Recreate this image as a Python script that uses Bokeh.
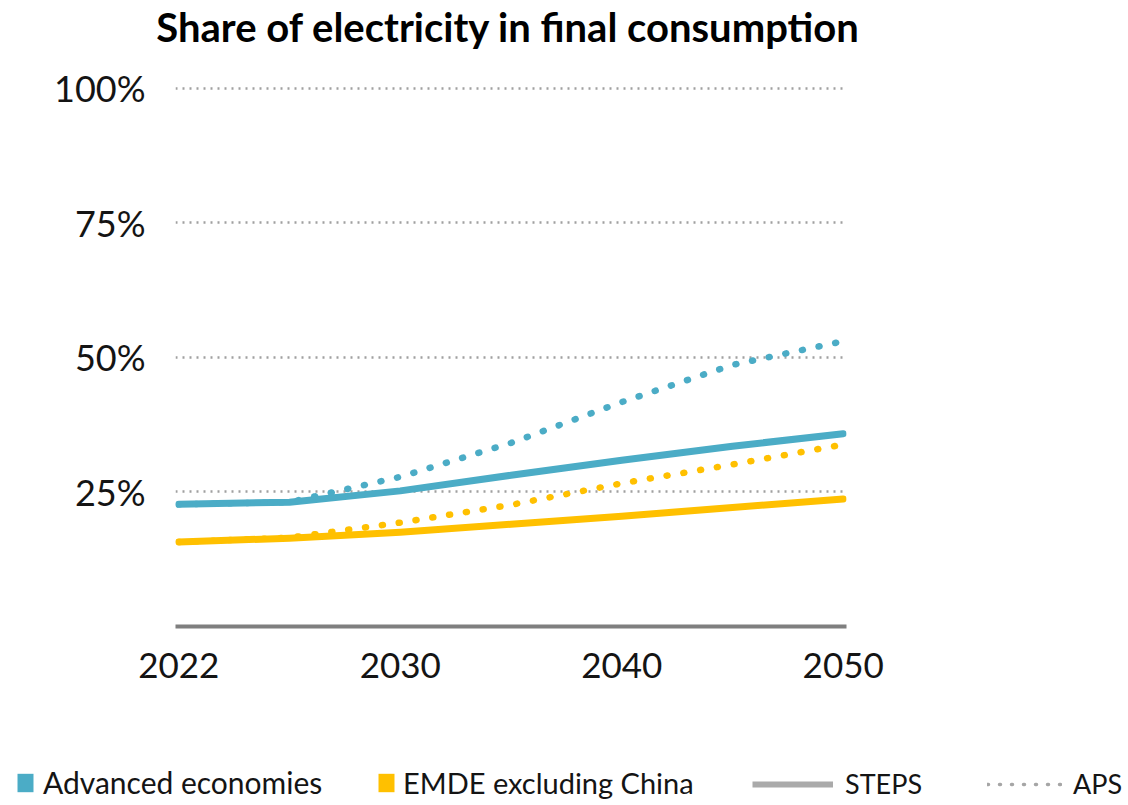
from bokeh.plotting import figure
from bokeh.layouts import column
from bokeh.models import Range1d, FixedTicker, Legend, LegendItem, ColumnDataSource, Label
from bokeh.embed import file_html
from bokeh.resources import INLINE

# ---- data ----
title_text = "Share of electricity in final consumption"
years = [2022, 2025, 2030, 2035, 2040, 2045, 2050]
label_years = [2022, 2030, 2040, 2050]
adv_steps = [22.7, 23.1, 25.2, 28.1, 30.9, 33.5, 35.8]
adv_aps = [22.7, 23.1, 27.8, 34.1, 41.7, 48.6, 53.0]
emde_steps = [15.7, 16.4, 17.5, 19.0, 20.5, 22.1, 23.7]
emde_aps = [15.7, 16.5, 19.3, 22.6, 26.6, 30.1, 33.8]
y_ticks = [25, 50, 75, 100]
y_labels = ["25%", "50%", "75%", "100%"]
legend_labels = ["Advanced economies", "EMDE excluding China", "STEPS", "APS"]

BLUE = "#4bacc6"
YELLOW = "#ffc000"
FONT = "Lato"
TXT = "#141414"
W = 1128
nan = float("nan")

xs = list(range(len(years)))


def strip(height):
    f = figure(width=W, height=height, output_backend="svg", toolbar_location=None,
               x_range=Range1d(0, W), y_range=Range1d(0, height),
               x_axis_type=None, y_axis_type=None, frame_align=False,
               min_border_left=0, min_border_right=0, min_border_top=0,
               min_border_bottom=0)
    f.outline_line_color = None
    f.background_fill_color = "white"
    f.border_fill_color = "white"
    return f


# ---- title strip ----
TH = 50
top = strip(TH)
top.add_layout(Label(x=508, y=24, text=title_text, text_align="center",
                     text_baseline="alphabetic", text_font=FONT, text_font_size="40px",
                     text_font_style="bold", text_color="#000000"))

# ---- main chart ----
p = figure(width=W, height=740 - TH, output_backend="svg", toolbar_location=None,
           x_range=Range1d(-0.03, len(years) - 1 + 0.03), y_range=Range1d(0, 102),
           min_border_left=175, min_border_right=W - 846, min_border_top=77 - TH,
           min_border_bottom=114, frame_align=False)
p.outline_line_color = None
p.background_fill_color = "white"
p.border_fill_color = "white"

# y axis
p.yaxis.ticker = FixedTicker(ticks=y_ticks)
p.yaxis.major_label_overrides = {t: l for t, l in zip(y_ticks, y_labels)}
p.yaxis.axis_line_color = None
p.yaxis.major_tick_line_color = None
p.yaxis.major_tick_out = 0
p.yaxis.major_tick_in = 0
p.yaxis.minor_tick_line_color = None
p.yaxis.major_label_text_font = FONT
p.yaxis.major_label_text_font_size = "36px"
p.yaxis.major_label_text_color = TXT
p.yaxis.major_label_standoff = 30

# x axis
tick_idx = [years.index(y) for y in label_years]
p.xaxis.ticker = FixedTicker(ticks=tick_idx)
p.xaxis.major_label_overrides = {i: str(years[i]) for i in tick_idx}
p.xaxis.axis_line_color = "#7f7f7f"
p.xaxis.axis_line_width = 4
p.xaxis.major_tick_line_color = None
p.xaxis.major_tick_out = 0
p.xaxis.major_tick_in = 0
p.xaxis.minor_tick_line_color = None
p.xaxis.major_label_text_font = FONT
p.xaxis.major_label_text_font_size = "35px"
p.xaxis.major_label_text_color = TXT
p.xaxis.major_label_standoff = 26

# grid
p.xgrid.grid_line_color = None
p.ygrid.ticker = FixedTicker(ticks=y_ticks)
p.ygrid.grid_line_color = "#a0a0a0"
p.ygrid.grid_line_width = 2.5
p.ygrid.grid_line_dash = "2 5"

src = ColumnDataSource(dict(x=xs, adv_steps=adv_steps, adv_aps=adv_aps,
                            emde_steps=emde_steps, emde_aps=emde_aps))

for col, color in [("emde_steps", YELLOW), ("adv_steps", BLUE)]:
    p.line("x", col, source=src, line_color=color, line_width=7,
           line_join="round", line_cap="round")
for col, color in [("emde_aps", YELLOW), ("adv_aps", BLUE)]:
    p.line("x", col, source=src, line_color=color, line_width=6.5,
           line_dash="1 16", line_cap="round", line_join="round")

# ---- legend strip ----
leg = strip(60)

quad_src = dict(left=[nan], right=[nan], top=[nan], bottom=[nan])
r_adv = leg.quad(source=ColumnDataSource(dict(quad_src)), left="left", right="right",
                 top="top", bottom="bottom", fill_color=BLUE, line_color=None)
r_emde = leg.quad(source=ColumnDataSource(dict(quad_src)), left="left", right="right",
                  top="top", bottom="bottom", fill_color=YELLOW, line_color=None)
r_steps = leg.line(source=ColumnDataSource(dict(x=[nan], y=[nan])), x="x", y="y",
                   line_color="#aaaaaa", line_width=6)
r_aps = leg.line(source=ColumnDataSource(dict(x=[nan], y=[nan])), x="x", y="y",
                 line_color="#a6a6a6", line_width=3.5, line_dash="1 11", line_cap="round")


def add_legend(label, rend, loc, gw, gh, standoff, fs):
    lg = Legend(items=[LegendItem(label=label, renderers=[rend])], location=loc,
                orientation="horizontal", glyph_width=gw, glyph_height=gh,
                label_standoff=standoff, padding=0, margin=0, spacing=0,
                border_line_alpha=0, background_fill_alpha=0,
                label_text_font=FONT, label_text_font_size=fs,
                label_text_color=TXT, label_height=30)
    leg.add_layout(lg, "center")


add_legend(legend_labels[0], r_adv, (15, 0), 20, 23, 8, "30px")
add_legend(legend_labels[1], r_emde, (376, 0), 20, 23, 7, "29px")
add_legend(legend_labels[2], r_steps, (752, 0), 81, 18, 12, "27px")
add_legend(legend_labels[3], r_aps, (987, 0), 75, 18, 11, "27px")

open("out.html", "w").write(file_html(column(top, p, leg, spacing=0), INLINE))
